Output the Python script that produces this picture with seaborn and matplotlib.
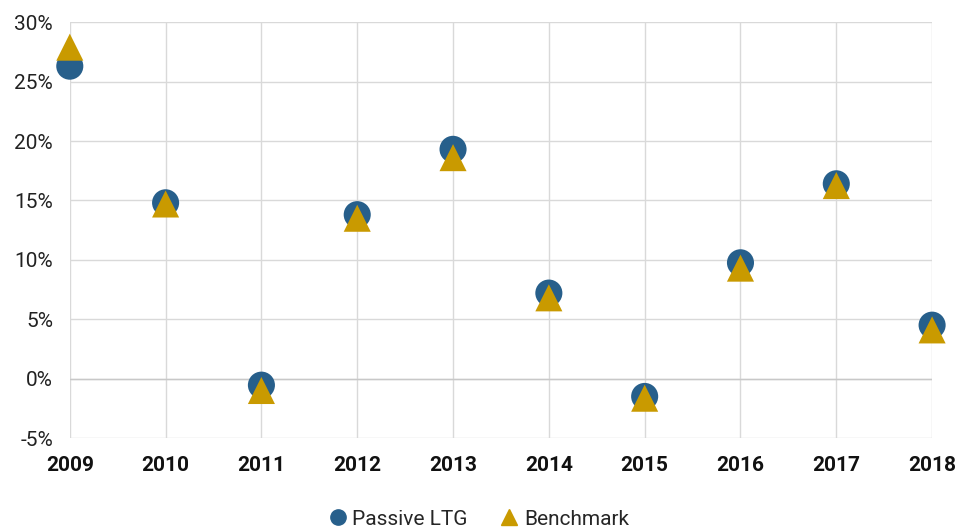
import pandas as pd
import matplotlib.pyplot as plt
import seaborn as sns
from matplotlib.ticker import PercentFormatter

years = [2009, 2010, 2011, 2012, 2013, 2014, 2015, 2016, 2017, 2018]
passive_ltg = [26.3, 14.8, -0.55, 13.8, 19.3, 7.2, -1.5, 9.75, 16.4, 4.5]
benchmark = [27.9, 14.7, -1.0, 13.5, 18.6, 6.8, -1.65, 9.3, 16.25, 4.1]
series_names = ["Passive LTG", "Benchmark"]

df = pd.DataFrame({
    "Year": years * 2,
    "Return": passive_ltg + benchmark,
    "Series": [series_names[0]] * len(years) + [series_names[1]] * len(years),
})

sns.set_style("white")
plt.rcParams['font.family'] = ['Roboto', 'DejaVu Sans']
plt.rcParams['axes.unicode_minus'] = False

fig, ax = plt.subplots(figsize=(9.56, 5.29), dpi=100)
fig.subplots_adjust(left=0.073, right=0.975, top=0.958, bottom=0.172)

cores = {"Passive LTG": "#275F8B", "Benchmark": "#C99A00"}
marcadores = {"Passive LTG": "o", "Benchmark": "^"}
sns.scatterplot(data=df, x="Year", y="Return", hue="Series", style="Series",
                palette=cores, markers=marcadores, s=380, linewidth=0,
                clip_on=False, zorder=3, ax=ax, legend=False)

ax.set_xlim(2009, 2018)
ax.set_ylim(-5, 30)
ax.set_xticks(years)
ax.set_yticks(range(-5, 31, 5))
ax.yaxis.set_major_formatter(PercentFormatter(decimals=0))
ax.grid(True, color="#d9d9d9", lw=1)
ax.axhline(0, color="#c8c8c8", lw=1, zorder=1)
for s in ax.spines.values():
    s.set_visible(False)
ax.set_xlabel("")
ax.set_ylabel("")
ax.tick_params(axis='x', labelsize=15, length=0, pad=13, colors="#111111")
ax.tick_params(axis='y', labelsize=15, length=0, pad=12, colors="#222222")
for lbl in ax.get_xticklabels():
    lbl.set_fontweight("bold")

handles = [
    plt.Line2D([], [], ls="", marker="o", ms=11, color=cores["Passive LTG"]),
    plt.Line2D([], [], ls="", marker="^", ms=12, color=cores["Benchmark"]),
]
fig.legend(handles, series_names, loc="lower center", ncol=2, frameon=False,
           fontsize=15, bbox_to_anchor=(0.5, -0.035), handletextpad=0.2,
           columnspacing=1.5, handlelength=1.0)

fig.savefig("out.png", dpi=100)
